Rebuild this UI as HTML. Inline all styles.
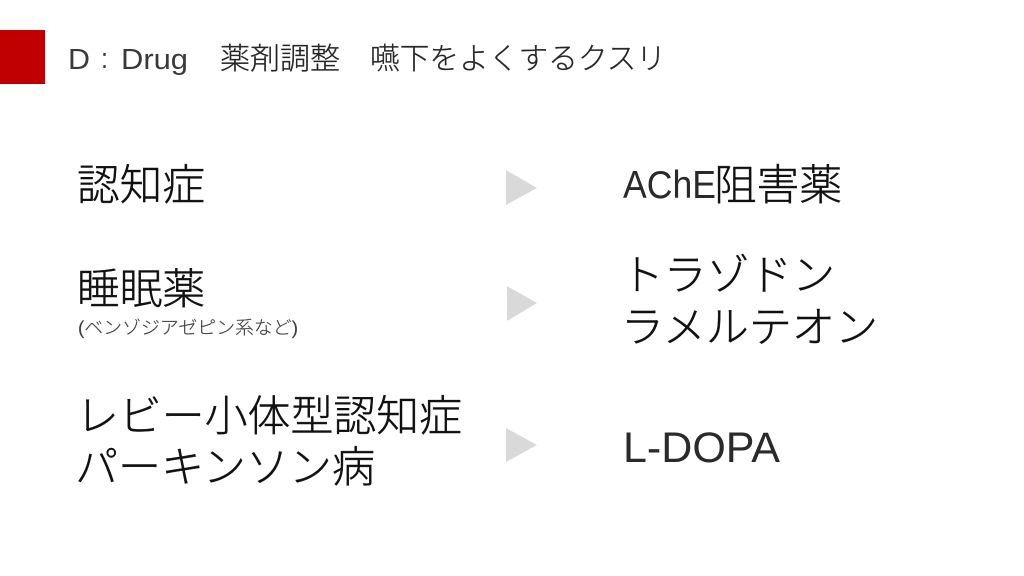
<!DOCTYPE html>
<html lang="ja">
<head>
<meta charset="utf-8">
<style>
html,body{margin:0;padding:0;background:#fff;width:1024px;height:576px;overflow:hidden}
svg{display:block}
text{font-family:"Liberation Sans","Noto Sans CJK JP",sans-serif;fill:#111;font-weight:300}
.l{font-size:42.6px;stroke:#111;stroke-width:.4px}
.a{font-size:39px;fill:#2a2a2a}
.t{font-size:30px;fill:#262626;stroke:#262626;stroke-width:.25px}
.tl{font-size:29px;fill:#3a3a3a}
.s{font-size:18px;fill:#404040;stroke:#404040;stroke-width:.15px}
.d{font-size:42.6px;fill:#2a2a2a}
</style>
</head>
<body>
<svg width="1024" height="576" viewBox="0 0 1024 576" xmlns="http://www.w3.org/2000/svg">
<rect x="0" y="30" width="45" height="54" fill="#c00000"/>
<text class="tl" x="68" y="69" textLength="22" lengthAdjust="spacingAndGlyphs">D</text>
<text class="tl" x="101" y="68" textLength="7" lengthAdjust="spacingAndGlyphs">:</text>
<text class="tl" x="121" y="69" textLength="67" lengthAdjust="spacingAndGlyphs">Drug</text>
<text class="t" x="220" y="69" textLength="120" lengthAdjust="spacingAndGlyphs">薬剤調整</text>
<text class="t" x="370" y="69" textLength="296" lengthAdjust="spacingAndGlyphs">嚥下をよくするクスリ</text>

<text class="l" x="77" y="200" textLength="128" lengthAdjust="spacingAndGlyphs">認知症</text>
<text class="l" x="77" y="304" textLength="128" lengthAdjust="spacingAndGlyphs">睡眠薬</text>
<text class="s" x="78" y="334" textLength="220" lengthAdjust="spacingAndGlyphs">(ベンゾジアゼピン系など)</text>
<text class="l" x="76" y="431" textLength="386" lengthAdjust="spacingAndGlyphs">レビー小体型認知症</text>
<text class="l" x="75" y="482" textLength="300" lengthAdjust="spacingAndGlyphs">パーキンソン病</text>

<polygon points="506,170 537,188 506,205" fill="#d9d9d9"/>
<polygon points="507,286 537,303 507,321" fill="#d9d9d9"/>
<polygon points="506,428 537,445 506,462" fill="#d9d9d9"/>

<text class="a" x="623" y="198" textLength="93" lengthAdjust="spacingAndGlyphs">AChE</text>
<text class="l" x="714" y="200" textLength="128" lengthAdjust="spacingAndGlyphs">阻害薬</text>
<text class="l" x="621" y="290" textLength="214" lengthAdjust="spacingAndGlyphs">トラゾドン</text>
<text class="l" x="621" y="342" textLength="257" lengthAdjust="spacingAndGlyphs">ラメルテオン</text>
<text class="d" x="623" y="462" textLength="157" lengthAdjust="spacingAndGlyphs">L-DOPA</text>
</svg>
</body>
</html>
